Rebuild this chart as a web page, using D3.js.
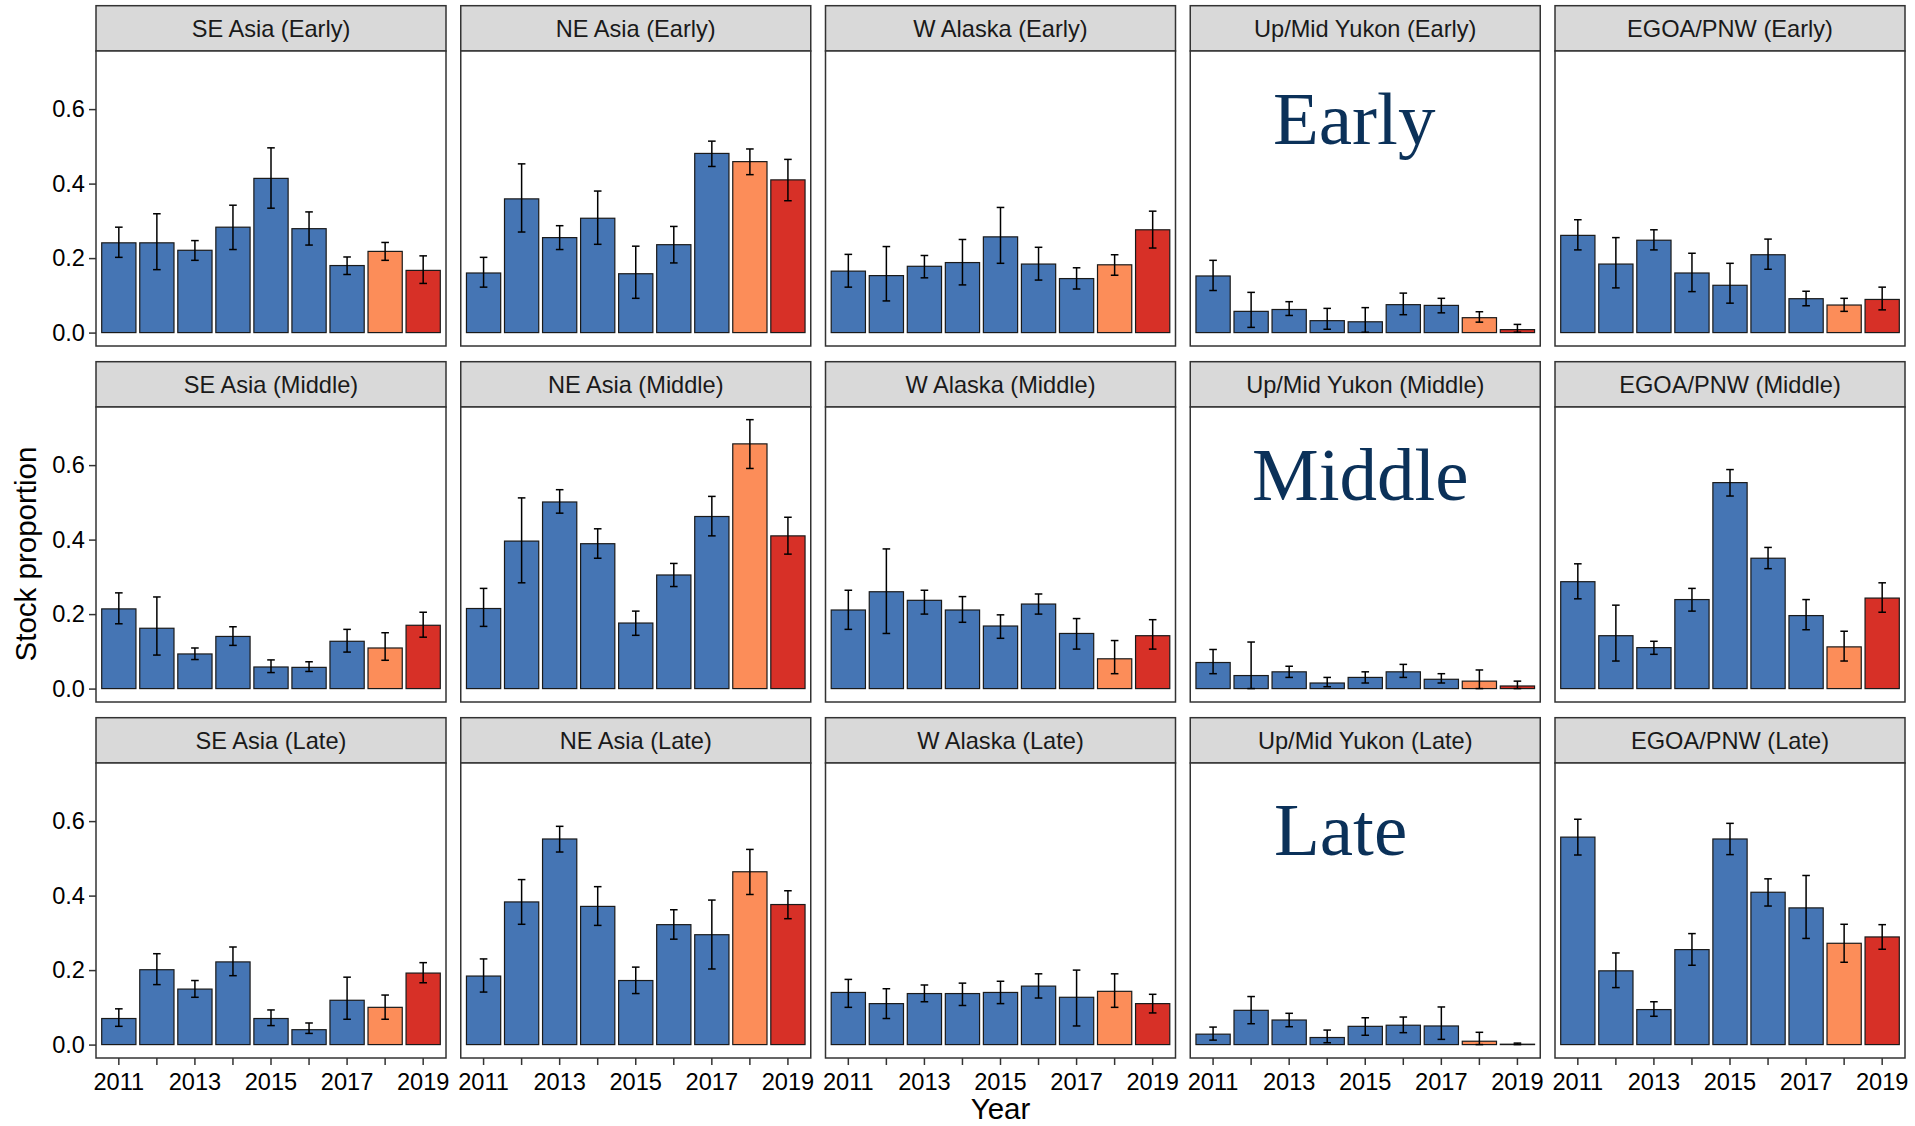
<!DOCTYPE html>
<html>
<head>
<meta charset="utf-8">
<script src="https://cdn.jsdelivr.net/npm/d3@7"></script>
<style>
  html, body { margin: 0; padding: 0; background: #ffffff; }
  svg { display: block; }
</style>
</head>
<body>
<svg id="chart" width="1915" height="1126"></svg>
<script>
// ---------------- DATA ----------------
const regions = ["SE Asia", "NE Asia", "W Alaska", "Up/Mid Yukon", "EGOA/PNW"];
const periods = ["Early", "Middle", "Late"];
const years = [2011, 2012, 2013, 2014, 2015, 2016, 2017, 2018, 2019];
const yTicks = [0.0, 0.2, 0.4, 0.6];
const xLabelYears = [2011, 2013, 2015, 2017, 2019];
const yearGroup = ["past", "past", "past", "past", "past", "past", "past", "2018", "2019"];

// rows: regions in order above; columns: years 2011..2019
const earlyEst = [
  [0.241, 0.241, 0.221, 0.283, 0.414, 0.279, 0.180, 0.218, 0.167],
  [0.160, 0.359, 0.255, 0.307, 0.158, 0.236, 0.481, 0.459, 0.410],
  [0.165, 0.153, 0.178, 0.188, 0.257, 0.184, 0.145, 0.182, 0.276],
  [0.152, 0.057, 0.062, 0.032, 0.029, 0.075, 0.073, 0.040, 0.008],
  [0.261, 0.184, 0.248, 0.160, 0.127, 0.209, 0.091, 0.074, 0.089]
];
const earlyLo = [
  [0.202, 0.169, 0.194, 0.223, 0.334, 0.235, 0.156, 0.194, 0.132],
  [0.122, 0.270, 0.223, 0.237, 0.092, 0.187, 0.446, 0.424, 0.354],
  [0.122, 0.085, 0.147, 0.128, 0.186, 0.141, 0.117, 0.154, 0.227],
  [0.113, 0.014, 0.046, 0.009, 0.001, 0.048, 0.053, 0.028, 0.001],
  [0.222, 0.120, 0.222, 0.110, 0.079, 0.170, 0.072, 0.057, 0.061]
];
const earlyHi = [
  [0.283, 0.319, 0.247, 0.342, 0.496, 0.324, 0.203, 0.242, 0.206],
  [0.202, 0.453, 0.287, 0.380, 0.232, 0.285, 0.514, 0.493, 0.465],
  [0.210, 0.231, 0.207, 0.250, 0.336, 0.229, 0.174, 0.209, 0.326],
  [0.194, 0.108, 0.083, 0.065, 0.067, 0.106, 0.092, 0.056, 0.022],
  [0.303, 0.255, 0.276, 0.213, 0.186, 0.251, 0.111, 0.092, 0.122]
];
const middleEst = [
  [0.214, 0.162, 0.093, 0.140, 0.058, 0.057, 0.127, 0.109, 0.170],
  [0.215, 0.396, 0.501, 0.389, 0.176, 0.305, 0.462, 0.657, 0.410],
  [0.211, 0.260, 0.237, 0.211, 0.168, 0.227, 0.148, 0.080, 0.142],
  [0.070, 0.035, 0.045, 0.015, 0.030, 0.045, 0.025, 0.020, 0.007],
  [0.287, 0.142, 0.110, 0.239, 0.553, 0.350, 0.196, 0.112, 0.243]
];
const middleLo = [
  [0.174, 0.090, 0.078, 0.116, 0.043, 0.046, 0.098, 0.076, 0.138],
  [0.167, 0.284, 0.471, 0.350, 0.143, 0.274, 0.410, 0.591, 0.361],
  [0.159, 0.148, 0.200, 0.178, 0.135, 0.200, 0.106, 0.040, 0.106],
  [0.040, 0.000, 0.030, 0.005, 0.015, 0.030, 0.015, 0.000, 0.000],
  [0.241, 0.074, 0.092, 0.208, 0.517, 0.322, 0.158, 0.074, 0.205]
];
const middleHi = [
  [0.257, 0.246, 0.109, 0.166, 0.077, 0.072, 0.159, 0.150, 0.205],
  [0.269, 0.512, 0.534, 0.429, 0.208, 0.336, 0.516, 0.722, 0.460],
  [0.264, 0.375, 0.264, 0.247, 0.198, 0.254, 0.188, 0.129, 0.185],
  [0.105, 0.125, 0.060, 0.030, 0.045, 0.065, 0.040, 0.050, 0.020],
  [0.335, 0.224, 0.127, 0.269, 0.588, 0.379, 0.239, 0.154, 0.284]
];
const lateEst = [
  [0.070, 0.201, 0.149, 0.222, 0.070, 0.040, 0.119, 0.100, 0.192],
  [0.184, 0.383, 0.552, 0.371, 0.172, 0.322, 0.295, 0.464, 0.376],
  [0.140, 0.110, 0.137, 0.137, 0.140, 0.157, 0.127, 0.143, 0.110],
  [0.028, 0.092, 0.066, 0.019, 0.049, 0.052, 0.050, 0.009, 0.001],
  [0.557, 0.198, 0.094, 0.255, 0.552, 0.409, 0.367, 0.272, 0.289]
];
const lateLo = [
  [0.049, 0.161, 0.127, 0.185, 0.051, 0.030, 0.068, 0.068, 0.166],
  [0.141, 0.323, 0.517, 0.320, 0.137, 0.283, 0.203, 0.403, 0.338],
  [0.100, 0.070, 0.115, 0.105, 0.110, 0.125, 0.050, 0.100, 0.085],
  [0.012, 0.056, 0.048, 0.005, 0.025, 0.032, 0.014, 0.000, 0.000],
  [0.509, 0.153, 0.076, 0.213, 0.510, 0.372, 0.285, 0.221, 0.256]
];
const lateHi = [
  [0.096, 0.244, 0.172, 0.262, 0.093, 0.058, 0.181, 0.133, 0.220],
  [0.230, 0.443, 0.586, 0.424, 0.208, 0.362, 0.388, 0.524, 0.413],
  [0.175, 0.150, 0.160, 0.165, 0.170, 0.190, 0.200, 0.190, 0.135],
  [0.047, 0.129, 0.084, 0.039, 0.072, 0.074, 0.101, 0.033, 0.004],
  [0.605, 0.246, 0.115, 0.298, 0.594, 0.445, 0.454, 0.323, 0.322]
];
const periodData = {
  Early: [earlyEst, earlyLo, earlyHi],
  Middle: [middleEst, middleLo, middleHi],
  Late: [lateEst, lateLo, lateHi]
};

// ---------------- LAYOUT ----------------
const colX0 = 96, colStep = 364.75, panelW = 350;
const rowY0 = 5.7, rowStep = 356, stripH = 45.3, panelH = 295;
const sans = "'Liberation Sans', Arial, Helvetica, sans-serif";
const serif = "'Liberation Serif', 'Times New Roman', serif";
const tickFont = 23.6, titleFont = 29.5;

const fill = d3.scaleOrdinal().domain(["past", "2018", "2019"]).range(["#4575b4", "#fc8d59", "#d73027"]);

const x = d3.scaleBand().domain(years).range([0, panelW]).paddingInner(0.1).paddingOuter(0.15);
const y = d3.scaleLinear().domain([-0.036, 0.756]).range([panelH, 0]);

const svg = d3.select("#chart");
svg.append("rect").attr("width", 1915).attr("height", 1126).attr("fill", "#ffffff");

periods.forEach((period, r) => {
  const [est, lo, hi] = periodData[period];
  regions.forEach((region, c) => {
    const gx = colX0 + c * colStep;
    const gy = rowY0 + r * rowStep;
    const g = svg.append("g").attr("transform", `translate(${gx},${gy})`);

    // strip
    g.append("rect").attr("x", 0).attr("y", 0).attr("width", panelW).attr("height", stripH)
      .attr("fill", "#d9d9d9").attr("stroke", "#333333").attr("stroke-width", 1.5);
    g.append("text").attr("x", panelW / 2).attr("y", stripH / 2).attr("dy", "0.355em")
      .attr("text-anchor", "middle").attr("font-family", sans).attr("font-size", tickFont)
      .attr("fill", "#1a1a1a").text(`${region} (${period})`);

    const p = g.append("g").attr("transform", `translate(0,${stripH})`);
    p.append("rect").attr("width", panelW).attr("height", panelH).attr("fill", "#ffffff");

    const rows = years.map((yr, i) => ({ yr, i, v: est[c][i], lo: lo[c][i], hi: hi[c][i] }));

    // bars
    p.selectAll("rect.bar").data(rows).enter().append("rect").attr("class", "bar")
      .attr("x", d => x(d.yr)).attr("width", x.bandwidth())
      .attr("y", d => y(d.v)).attr("height", d => y(0) - y(d.v))
      .attr("fill", d => fill(yearGroup[d.i]))
      .attr("stroke", "#1a1a1a").attr("stroke-width", 1.2);

    // error bars
    const capHalf = x.step() * 0.1;
    const eb = p.selectAll("g.eb").data(rows).enter().append("g").attr("class", "eb")
      .attr("stroke", "#000000").attr("stroke-width", 1.5).attr("fill", "none");
    eb.append("line").attr("x1", d => x(d.yr) + x.bandwidth() / 2).attr("x2", d => x(d.yr) + x.bandwidth() / 2)
      .attr("y1", d => y(d.lo)).attr("y2", d => y(d.hi));
    eb.append("line").attr("x1", d => x(d.yr) + x.bandwidth() / 2 - capHalf).attr("x2", d => x(d.yr) + x.bandwidth() / 2 + capHalf)
      .attr("y1", d => y(d.lo)).attr("y2", d => y(d.lo));
    eb.append("line").attr("x1", d => x(d.yr) + x.bandwidth() / 2 - capHalf).attr("x2", d => x(d.yr) + x.bandwidth() / 2 + capHalf)
      .attr("y1", d => y(d.hi)).attr("y2", d => y(d.hi));

    // panel border
    p.append("rect").attr("width", panelW).attr("height", panelH)
      .attr("fill", "none").attr("stroke", "#333333").attr("stroke-width", 1.5);

    // y axis on first column
    if (c === 0) {
      const ya = p.append("g").call(d3.axisLeft(y).tickValues(yTicks).tickFormat(d3.format(".1f")).tickSize(7).tickPadding(4));
      ya.select(".domain").remove();
      ya.selectAll(".tick line").attr("stroke", "#333333").attr("stroke-width", 1.5);
      ya.selectAll(".tick text").attr("font-family", sans).attr("font-size", tickFont).attr("fill", "#000000");
    }
    // x axis on bottom row
    if (r === periods.length - 1) {
      const xa = p.append("g").attr("transform", `translate(0,${panelH})`)
        .call(d3.axisBottom(x).tickFormat(d => xLabelYears.includes(d) ? d : "").tickSize(7).tickPadding(8));
      xa.select(".domain").remove();
      xa.selectAll(".tick line").attr("stroke", "#333333").attr("stroke-width", 1.5);
      xa.selectAll(".tick text").attr("font-family", sans).attr("font-size", tickFont).attr("fill", "#000000");
    }
  });
});

// big period labels in Up/Mid Yukon panels
const periodLabels = [
  { text: "Early", x: 1273, y: 144 },
  { text: "Middle", x: 1252, y: 500 },
  { text: "Late", x: 1274, y: 855 }
];
svg.selectAll("text.period").data(periodLabels).enter().append("text").attr("class", "period")
  .attr("x", d => d.x).attr("y", d => d.y)
  .attr("font-family", serif).attr("font-size", 75).attr("fill", "#0b3159")
  .text(d => d.text);

// axis titles
svg.append("text").attr("transform", "translate(36,554) rotate(-90)")
  .attr("text-anchor", "middle").attr("font-family", sans).attr("font-size", titleFont)
  .attr("fill", "#000000").text("Stock proportion");
svg.append("text").attr("x", 1000.5).attr("y", 1119)
  .attr("text-anchor", "middle").attr("font-family", sans).attr("font-size", titleFont)
  .attr("fill", "#000000").text("Year");
</script>
</body>
</html>
